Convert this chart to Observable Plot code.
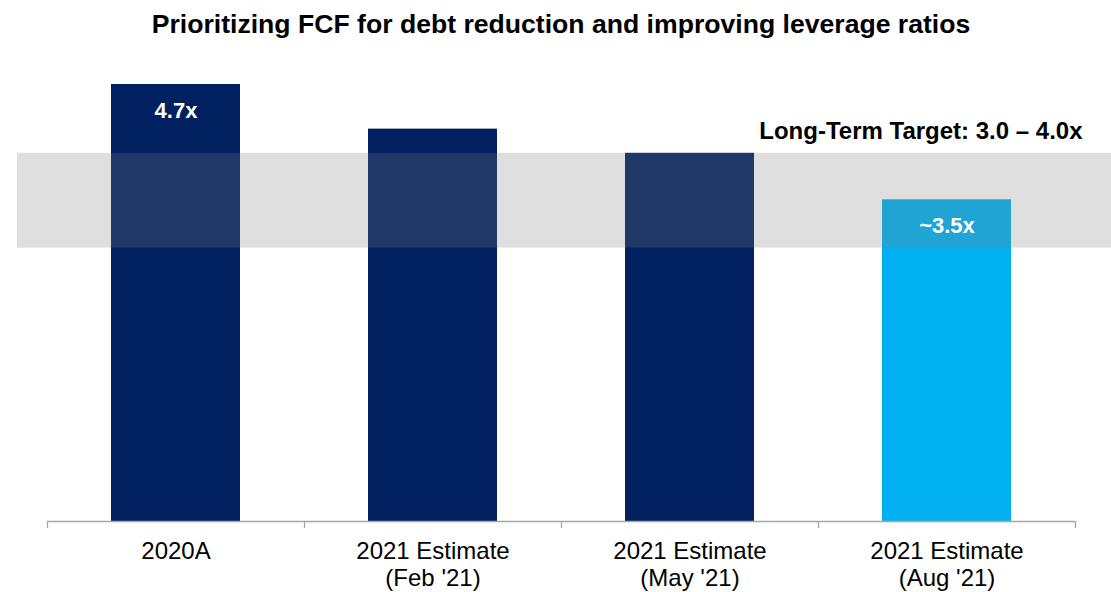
<!DOCTYPE html>
<html><head><meta charset="utf-8">
<script src="https://cdn.jsdelivr.net/npm/d3@7"></script>
<script src="https://cdn.jsdelivr.net/npm/@observablehq/plot@0.6"></script>
<style>
body{margin:0;background:#fff;font-family:"Liberation Sans",Arial,sans-serif;}
#title{width:1111px;height:50px;box-sizing:border-box;padding-top:9px;padding-left:11px;text-align:center;font-weight:bold;font-size:26.6px;line-height:30px;color:#000;white-space:nowrap;}
</style></head><body>
<div id="title">Prioritizing FCF for debt reduction and improving leverage ratios</div>
<div id="chart"></div>
<script>
const categories = ["2020A", "2021 Estimate\n(Feb '21)", "2021 Estimate\n(May '21)", "2021 Estimate\n(Aug '21)"];
const leverage = [4.7, 4.22, 3.96, 3.46];
const barLabels = ["4.7x", "", "", "~3.5x"];
const barColors = ["#002060", "#002060", "#002060", "#00B0F0"];
const targetBand = [2.94, 3.96];
const targetLabel = "Long-Term Target: 3.0 – 4.0x";

const data = categories.map((c, i) => ({category: c, value: leverage[i], label: barLabels[i], color: barColors[i]}));
const W = 1111, H = 542;
const step = (W - 47 - 36) / 4;
const plot = Plot.plot({
  width: W, height: H,
  marginLeft: 47, marginRight: 36, marginTop: 34, marginBottom: 71,
  style: {fontFamily: '"Liberation Sans", Arial, sans-serif', background: "#fff", color: "#000"},
  x: {domain: categories, paddingInner: 0.5, paddingOuter: 0.25, label: null},
  y: {domain: [0, 4.7], axis: null},
  marks: [
    Plot.barY(data, {x: "category", y: "value", fill: "color"}),
    Plot.rect([targetBand], {y1: d => d[0], y2: d => d[1], fill: "#7F7F7F", fillOpacity: 0.25, insetLeft: -30, insetRight: -36}),
    Plot.text(data, {x: "category", y: "value", text: "label", fill: "white", fontWeight: "bold", fontSize: 22, dy: 26}),
    Plot.text([targetLabel], {text: d => d, y: () => targetBand[1], frameAnchor: "right", textAnchor: "end", dx: 7, dy: -22, fontSize: 24, fontWeight: "bold", fill: "#000"}),
    Plot.ruleY([0], {stroke: "#A6A6A6", strokeWidth: 1.3}),
    Plot.ruleX(categories, {x: d => d, dx: -step / 2, insetTop: H - 34 - 71, insetBottom: -7, stroke: "#A6A6A6", strokeWidth: 1.3}),
    Plot.ruleX([categories[categories.length - 1]], {x: d => d, dx: step / 2, insetTop: H - 34 - 71, insetBottom: -7, stroke: "#A6A6A6", strokeWidth: 1.3}),
    Plot.axisX({tickSize: 0, tickPadding: 19, fontSize: 24, lineHeight: 1.1, fill: "#000"})
  ]
});
document.getElementById("chart").appendChild(plot);
</script>
</body></html>
